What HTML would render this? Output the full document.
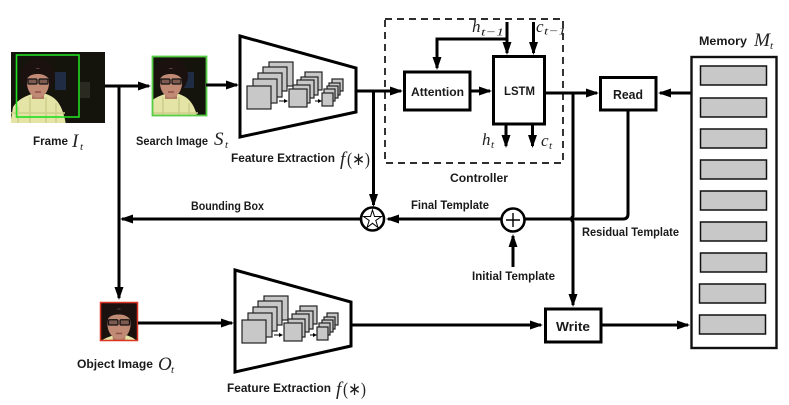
<!DOCTYPE html>
<html><head><meta charset="utf-8"><style>
html,body{margin:0;padding:0;background:#fff}
svg{display:block}
.t{font:bold 11.5px "Liberation Sans",sans-serif;fill:#1a1a1a}
.m{font:italic 19px "Liberation Serif",serif;fill:#222}
.s{font:italic 11px "Liberation Serif",serif;fill:#222}
.n{font:18px "Liberation Serif",serif;fill:#222}
.l{stroke:#000;stroke-width:3;fill:none}
.b{stroke:#000;stroke-width:3;fill:#fff}
.c{fill:#c8c8c8;stroke:#222;stroke-width:1.2}
.g{fill:#c8c8c8;stroke:#111;stroke-width:1.5}
</style></head><body>
<svg width="789" height="405" viewBox="0 0 789 405" xmlns="http://www.w3.org/2000/svg">
<defs>
<marker id="a" viewBox="0 0 13 9" refX="11" refY="4.500" markerWidth="4.333" markerHeight="3" markerUnits="strokeWidth" orient="auto"><path d="M0 0L13 4.500L0 9z" fill="#000"/></marker>
<filter id="bl" x="-5%" y="-5%" width="110%" height="110%"><feGaussianBlur stdDeviation="0.6"/></filter>
<clipPath id="cf"><rect x="11" y="52" width="94" height="71"/></clipPath>
<clipPath id="cs"><rect x="153" y="57" width="53" height="58"/></clipPath>
<clipPath id="co"><rect x="101" y="303" width="37" height="38"/></clipPath>
<g id="person">
<path d="M-28 42L-25 24C-20 16-12 13-6 11L8 11C16 14 24 18 28 42z" fill="#e4e4a6"/>
<path d="M-20 24V42M-8 14V42M8 14V42M18 20V42M-27 30H27" stroke="#cfcf8c" stroke-width="1.5" fill="none"/>
<ellipse cx="0" cy="-7" rx="17" ry="18" fill="#1b1210"/>
<rect x="-6" y="8" width="12" height="8" fill="#b07a62"/>
<ellipse cx="0" cy="0" rx="11" ry="14.500" fill="#c08a75"/>
<path d="M-12 -3C-13-14-6-15 0-14C7-15 12-13 12-3C8-8 4-9 0-9C-5-9-9-8-12-3z" fill="#1b1210"/>
<rect x="-10" y="-4" width="9" height="5" rx="1" fill="#7d5a50" stroke="#111" stroke-width="1.2"/><rect x="1" y="-4" width="9" height="5" rx="1" fill="#7d5a50" stroke="#111" stroke-width="1.2"/>
<path d="M-3 9H3" stroke="#94504a" stroke-width="1.5"/>
</g>
<g id="cnn">
<rect class="c" x="269" y="62" width="24" height="24"/><rect class="c" x="263" y="67" width="24" height="24"/><rect class="c" x="258" y="73" width="24" height="24"/><rect class="c" x="253" y="79" width="24" height="24"/><rect class="c" x="247" y="86" width="24" height="23"/>
<rect class="c" x="305" y="72" width="17" height="18"/><rect class="c" x="301" y="77" width="17" height="18"/><rect class="c" x="297" y="80" width="17" height="18"/><rect class="c" x="293" y="85" width="17" height="18"/><rect class="c" x="289" y="89" width="18" height="18"/>
<rect class="c" x="332" y="79" width="11" height="12"/><rect class="c" x="329" y="83" width="11" height="12"/><rect class="c" x="327" y="86" width="11" height="12"/><rect class="c" x="324" y="89" width="11" height="12"/><rect class="c" x="322" y="93" width="11" height="13"/>
<path d="M279 101H285M315 101H320" stroke="#000" stroke-width="1"/>
<path d="M284 99L288 101L284 103zM318 99L322 101L318 103z" fill="#000"/>
</g>
</defs>

<!-- Frame -->
<rect x="11" y="52" width="94" height="71" fill="#14140c"/>
<g clip-path="url(#cf)">
<rect x="55" y="72" width="11" height="18" fill="#1f2c44"/>
<rect x="80" y="82" width="10" height="16" fill="#2a2a20"/>
<use href="#person" transform="translate(38,83)"/>
</g>
<rect x="16.500" y="55" width="62.500" height="62" fill="none" stroke="#22dd22" stroke-width="1.6"/>
<!-- Search -->
<rect x="153" y="57" width="53" height="58" fill="#14140c"/>
<g clip-path="url(#cs)">
<rect x="183" y="72" width="11" height="16" fill="#1f2c44"/>
<use href="#person" transform="translate(171,83)"/>
</g>
<rect x="152.500" y="56.500" width="54" height="59" fill="none" stroke="#55cc44" stroke-width="1.8"/>
<!-- Object -->
<rect x="101" y="303" width="37" height="38" fill="#1a100c"/>
<g clip-path="url(#co)"><use href="#person" transform="translate(119,324) scale(1.05)"/></g>
<rect x="100.500" y="302.500" width="37" height="38" fill="none" stroke="#dd3322" stroke-width="1.5"/>

<!-- Trapezoids -->
<path d="M240 36L356 68V112L240 137z" class="b"/>
<use href="#cnn"/>
<path d="M235 270L351 302V346L235 372z" class="b"/>
<use href="#cnn" transform="translate(-5,234)"/>

<!-- Controller -->
<rect x="385" y="19" width="178" height="144" fill="none" stroke="#111" stroke-width="1.7" stroke-dasharray="7 5"/>
<rect class="b" x="404.500" y="72" width="65.500" height="38"/>
<rect class="b" x="493.500" y="56.500" width="51" height="67.500"/>
<rect class="b" x="600.500" y="77.500" width="55.500" height="32.500"/>
<rect class="b" x="545.500" y="309" width="55.500" height="33"/>

<!-- Connectors -->
<path class="l" d="M105 86H149" marker-end="url(#a)"/>
<path class="l" d="M206 85H237" marker-end="url(#a)"/>
<path class="l" d="M119 86V298" marker-end="url(#a)"/>
<path class="l" d="M356 91H401" marker-end="url(#a)"/>
<path class="l" d="M373.500 91V205" marker-end="url(#a)"/>
<path class="l" d="M470 91H490" marker-end="url(#a)"/>
<path class="l" d="M545 93H597" marker-end="url(#a)"/>
<path class="l" d="M507 22V53" marker-end="url(#a)"/>
<path class="l" d="M507 39H437V68" marker-end="url(#a)"/>
<path class="l" d="M533.500 22V53" marker-end="url(#a)"/>
<path class="l" d="M506 124V146" marker-end="url(#a)"/>
<path class="l" d="M532.500 124V146" marker-end="url(#a)"/>
<path class="l" d="M691 93H660" marker-end="url(#a)"/>
<path class="l" d="M573 93V216Q570 219 573 222V305" marker-end="url(#a)"/>
<path class="l" d="M628 110V214Q628 219 623 219H525"/>
<path class="l" d="M502 219H388" marker-end="url(#a)"/>
<path class="l" d="M361 219H122" marker-end="url(#a)"/>
<path class="l" d="M513 267V236" marker-end="url(#a)"/>
<path class="l" d="M138 323H232" marker-end="url(#a)"/>
<path class="l" d="M351 325H541" marker-end="url(#a)"/>
<path class="l" d="M601 325H688" marker-end="url(#a)"/>

<!-- Ops -->
<circle cx="372.500" cy="219" r="11.500" fill="#fff" stroke="#000" stroke-width="2.6"/>
<path d="M372.500 210L374.500 216.500L381.500 216.500L375.800 220.500L378 227.500L372.500 223.300L367 227.500L369.200 220.500L363.500 216.500L370.500 216.500z" fill="none" stroke="#000" stroke-width="1"/>
<circle cx="513" cy="220" r="11.500" fill="#fff" stroke="#000" stroke-width="2.6"/>
<path d="M513 213V227M506 220H520" stroke="#000" stroke-width="1.4"/>

<!-- Memory -->
<rect x="691.500" y="57" width="85" height="291" fill="#fff" stroke="#111" stroke-width="2.4"/>
<rect class="g" x="700.500" y="66" width="66" height="19"/>
<rect class="g" x="700.500" y="98" width="66" height="19"/>
<rect class="g" x="700.500" y="129" width="66" height="19"/>
<rect class="g" x="700.500" y="160" width="66" height="19"/>
<rect class="g" x="700.500" y="191" width="66" height="19"/>
<rect class="g" x="700.500" y="222" width="66" height="19"/>
<rect class="g" x="700.500" y="253" width="66" height="19"/>
<rect class="g" x="699.500" y="284" width="66" height="19"/>
<rect class="g" x="699.500" y="315" width="66" height="19"/>

<!-- Labels -->
<text class="t" x="33" y="145" textLength="35" lengthAdjust="spacingAndGlyphs">Frame</text>
<text class="m" x="72" y="147">I</text><text class="s" x="80" y="150">t</text>
<text class="t" x="136" y="145" textLength="72" lengthAdjust="spacingAndGlyphs">Search Image</text>
<text class="m" x="214" y="145">S</text><text class="s" x="225" y="148">t</text>
<text class="t" x="231" y="162" textLength="104" lengthAdjust="spacingAndGlyphs">Feature Extraction</text>
<text class="m" x="340" y="165">f</text><text class="n" x="347" y="165" textLength="23" lengthAdjust="spacingAndGlyphs">(∗)</text>
<text class="t" x="411" y="96" textLength="53" lengthAdjust="spacingAndGlyphs">Attention</text>
<text class="t" x="504" y="95" textLength="31" lengthAdjust="spacingAndGlyphs">LSTM</text>
<text class="t" x="613" y="99" textLength="30" lengthAdjust="spacingAndGlyphs" style="font-size:12.500px">Read</text>
<text class="t" x="556" y="331" textLength="34" lengthAdjust="spacingAndGlyphs" style="font-size:12.500px">Write</text>
<text class="t" x="450" y="182" textLength="58" lengthAdjust="spacingAndGlyphs">Controller</text>
<text class="t" x="191" y="210" textLength="73" lengthAdjust="spacingAndGlyphs">Bounding Box</text>
<text class="t" x="411" y="209" textLength="78" lengthAdjust="spacingAndGlyphs">Final Template</text>
<text class="t" x="582" y="236" textLength="97" lengthAdjust="spacingAndGlyphs">Residual Template</text>
<text class="t" x="472" y="280" textLength="83" lengthAdjust="spacingAndGlyphs">Initial Template</text>
<text class="t" x="699" y="45" textLength="48" lengthAdjust="spacingAndGlyphs">Memory</text>
<text class="m" x="754" y="46" textLength="16" lengthAdjust="spacingAndGlyphs">M</text><text class="s" x="770" y="49">t</text>
<text class="t" x="77" y="368" textLength="76" lengthAdjust="spacingAndGlyphs">Object Image</text>
<text class="m" x="158" y="370">O</text><text class="s" x="171" y="373">t</text>
<text class="t" x="227" y="392" textLength="104" lengthAdjust="spacingAndGlyphs">Feature Extraction</text>
<text class="m" x="336" y="395">f</text><text class="n" x="343" y="395" textLength="23" lengthAdjust="spacingAndGlyphs">(∗)</text>
<text class="m" x="472" y="32" style="font-size:17px">h</text><text class="s" x="481" y="35.500" textLength="23" lengthAdjust="spacingAndGlyphs">t−1</text>
<text class="m" x="536" y="32" style="font-size:17px">c</text><text class="s" x="544" y="34.500" textLength="22" lengthAdjust="spacingAndGlyphs">t−1</text>
<text class="m" x="482" y="145" style="font-size:17px">h</text><text class="s" x="491" y="148">t</text>
<text class="m" x="541" y="146" style="font-size:17px">c</text><text class="s" x="549" y="149">t</text>
</svg>
</body></html>
